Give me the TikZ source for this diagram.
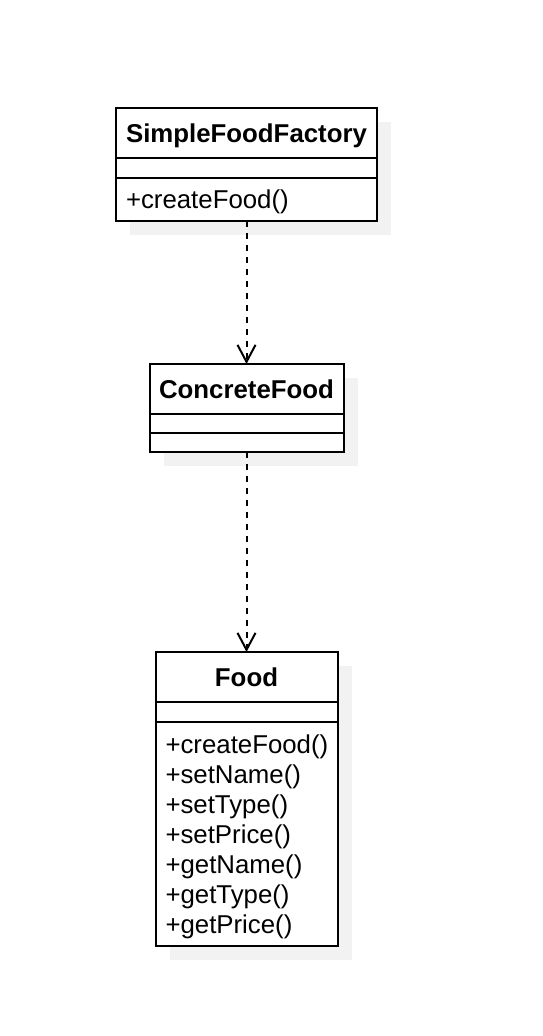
\documentclass[tikz,border=0pt]{standalone}
\usepackage{fontspec}
\setmainfont{Liberation Sans}
\usetikzlibrary{arrows.meta,calc,positioning,backgrounds}
\definecolor{shadowgray}{HTML}{F2F2F2}
\hyphenpenalty=10000
\exhyphenpenalty=10000
\newcommand{\umlstrut}{\rule[-6pt]{0pt}{30pt}}

\begin{document}
\begin{tikzpicture}[
  x=1pt, y=1pt,
  part/.style  = {draw=black, fill=white, line width=2pt, outer sep=0pt,
                  inner sep=0pt, minimum width=#1,
                  font=\fontsize{25.8}{30}\selectfont},
  head/.style  = {part=#1, font=\fontsize{25.8}{30}\selectfont\bfseries,
                  minimum height=50pt, execute at begin node=\umlstrut},
  attr/.style  = {part=#1, minimum height=20pt},
  meth/.style 2 args = {part=#1, text width=#2, align=left, inner xsep=10pt,
                  execute at begin node=\umlstrut},
  dep/.style   = {-{Straight Barb[length=17pt,width=18pt]},
                  line width=2pt, dash pattern=on 6pt off 6pt},
]
\useasboundingbox (0,0) rectangle (542,-1036);

% SimpleFoodFactory
\node[head=261pt] (sffHead) at (246.5,-133) {SimpleFoodFactory};
\node[attr=261pt, below=0pt of sffHead] (sffAttr) {};
\node[meth={261pt}{241pt}, minimum height=43pt, below=0pt of sffAttr] (sffMeth) {+createFood()};

% ConcreteFood
\node[head=194pt] (cfHead) at (246.5,-389) {ConcreteFood};
\node[attr=194pt, minimum height=19pt, below=0pt of cfHead] (cfAttr) {};
\node[attr=194pt, minimum height=19pt, below=0pt of cfAttr] (cfMeth) {};

% Food
\node[head=182pt] (foodHead) at (246.5,-677) {Food};
\node[attr=182pt, below=0pt of foodHead] (foodAttr) {};
\node[meth={182pt}{162pt}, minimum height=224pt, below=0pt of foodAttr] (foodMeth)
  {+createFood()\\+setName()\\+setType()\\+setPrice()\\+getName()\\+getType()\\+getPrice()};

% shadows
\begin{scope}[on background layer]
  \fill[shadowgray] ($(sffHead.north west)+(14,-14)$) rectangle ($(sffMeth.south east)+(14,-14)$);
  \fill[shadowgray] ($(cfHead.north west)+(14,-14)$) rectangle ($(cfMeth.south east)+(14,-14)$);
  \fill[shadowgray] ($(foodHead.north west)+(14,-14)$) rectangle ($(foodMeth.south east)+(14,-14)$);
\end{scope}

\draw[dep] (sffMeth.south) -- (cfHead.north);
\draw[dep] (cfMeth.south) -- (foodHead.north);
\end{tikzpicture}
\end{document}
